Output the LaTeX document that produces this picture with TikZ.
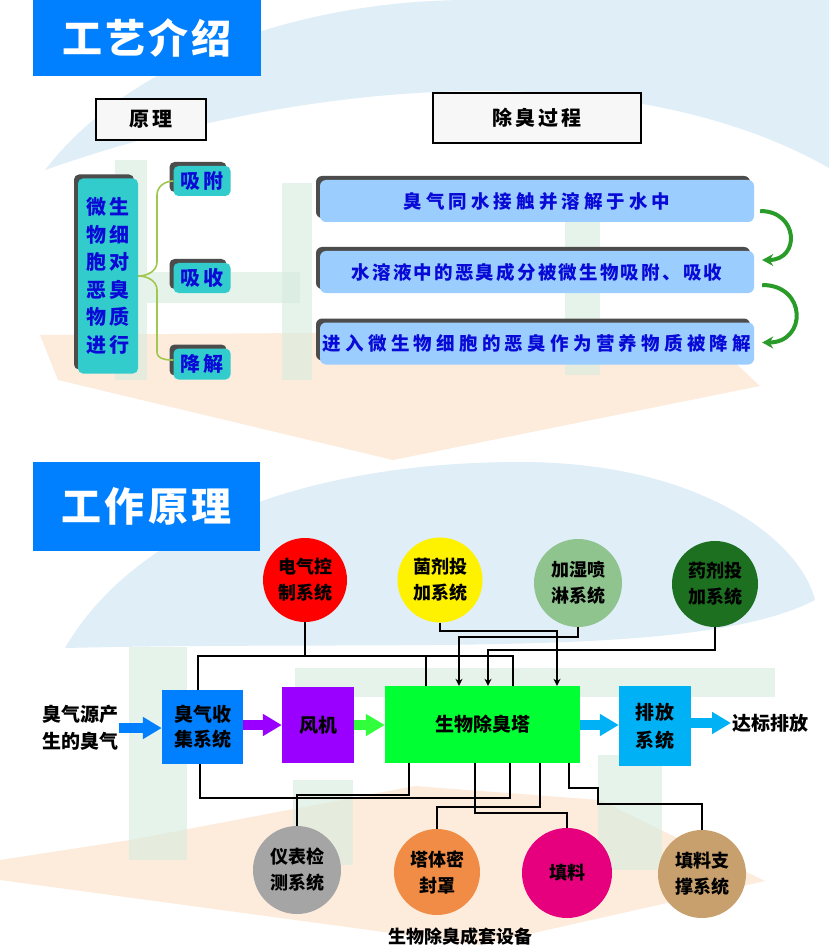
\documentclass[tikz,border=0pt]{standalone}
\usepackage{fontspec}
\setmainfont{Noto Sans CJK SC}
\usetikzlibrary{arrows.meta,shadows,positioning}

\definecolor{titleblue}{RGB}{0,128,255}
\definecolor{inkblue}{RGB}{10,10,215}
\definecolor{tealfill}{RGB}{51,204,204}
\definecolor{procblue}{RGB}{155,205,255}
\definecolor{bracegreen}{RGB}{160,200,80}
\definecolor{cyclegreen}{RGB}{40,155,40}
\definecolor{swooshblue}{RGB}{224,238,248}
\definecolor{wedgeorange}{RGB}{253,236,220}
\definecolor{wmgreen}{RGB}{214,236,222}
\definecolor{purplebox}{RGB}{153,0,255}
\definecolor{greenbox}{RGB}{0,255,51}
\definecolor{exitblue}{RGB}{0,178,245}
\definecolor{arrgreen}{RGB}{50,255,60}
\definecolor{lightgreenc}{RGB}{143,196,143}
\definecolor{darkgreenc}{RGB}{28,112,32}
\definecolor{grayc}{RGB}{165,165,165}
\definecolor{orangec}{RGB}{240,140,70}
\definecolor{magentac}{RGB}{230,0,125}
\definecolor{tanc}{RGB}{200,160,110}

\newcommand{\wide}[1]{\addfontfeature{LetterSpace=#1}}

\begin{document}
\begin{tikzpicture}[x=1pt, y=-1pt,
  titlebar/.style={fill=titleblue, text=white, inner sep=0pt,
                   font=\fontsize{40}{40}\selectfont\bfseries},
  header/.style={draw=black, line width=2.5pt, fill=gray!6, inner sep=0pt,
                 font=\fontsize{20}{20}\selectfont\bfseries},
  tealbox/.style={fill=tealfill, rounded corners=5pt, inner sep=0pt, text=inkblue,
                  align=center, font=\fontsize{20}{27.5}\selectfont\bfseries,
                  general shadow={fill=black!70, shadow xshift=-4pt, shadow yshift=4pt}},
  proc/.style={fill=procblue, rounded corners=6pt, inner sep=0pt, text=inkblue,
               minimum width=434pt, minimum height=42pt,
               font=\fontsize{18.5}{20}\selectfont\bfseries,
               general shadow={fill=black!70, shadow xshift=-4pt, shadow yshift=4pt}},
  cyclearr/.style={cyclegreen, line width=4pt, -{Stealth[length=11pt,width=12pt]}},
  bracket/.style={bracegreen, line width=1.6pt},
  circ/.style={circle, inner sep=0pt, align=center,
               font=\fontsize{18}{26}\selectfont\bfseries},
  unit/.style={inner sep=0pt, align=center,
               font=\fontsize{19}{25}\selectfont\bfseries},
  txt/.style={inner sep=1pt, align=center,
              font=\fontsize{19}{27}\selectfont\bfseries},
  flow/.style={line width=10pt, -{Triangle[length=19pt,width=21pt]}},
  link/.style={line width=1.6pt},
  feed/.style={link, -{Stealth[length=7pt,width=7pt]}}
]
  \fill[white] (0,0) rectangle (829,949);
  \useasboundingbox (0,0) rectangle (829,949);

  % Background
  \fill[swooshblue] (45,170) .. controls (130,60) and (300,0) .. (470,0) -- (829,0)
    -- (829,168) .. controls (640,60) and (330,70) .. (45,170) -- cycle;
  \fill[wedgeorange] (40,335) -- (58,380) -- (393,460) -- (760,386) -- (700,330) -- cycle;
  \fill[swooshblue] (65,648) .. controls (140,520) and (320,462) .. (520,462)
    .. controls (700,462) and (800,540) .. (815,600)
    .. controls (700,660) and (400,640) .. (65,648) -- cycle;
  \fill[wedgeorange] (130,840) -- (415,786) -- (600,800) -- (765,881) -- (480,945)
    -- (0,880) -- (0,860) -- cycle;
  \begin{scope}[fill=wmgreen, opacity=0.6]
    \fill (115,160) rectangle (147,380);
    \fill (147,272) rectangle (300,303);
    \fill (282,183) rectangle (312,380);
    \fill (565,200) rectangle (600,375);
    \fill (129,647) rectangle (187,860);
    \fill (295,668) rectangle (775,697);
    \fill (293,780) rectangle (353,865);
    \fill (598,755) rectangle (662,870);
  \end{scope}

  % Section 1
  \node[titlebar, minimum width=228pt, minimum height=76pt] (gyjs) at (147,38) {\wide{8}工艺介绍};
  \node[header, minimum width=110pt, minimum height=41pt] (yl) at (151,119.5) {\wide{15}原理};
  \node[header, minimum width=208pt, minimum height=50pt] (ccgc) at (537,118) {\wide{15}除臭过程};

  \node[tealbox, minimum width=60pt, minimum height=195pt] (wsw) at (108,276)
    {\wide{15}微生\\\wide{15}物细\\\wide{15}胞对\\\wide{15}恶臭\\\wide{15}物质\\\wide{15}进行};
  \node[tealbox, minimum width=57pt, minimum height=30pt] (xf) at (202,181) {\wide{15}吸附};
  \node[tealbox, minimum width=57pt, minimum height=30pt] (xs) at (202,278) {\wide{15}吸收};
  \node[tealbox, minimum width=57pt, minimum height=31pt] (jj) at (202,364) {\wide{15}降解};

  \draw[bracket] (xf.west) to[out=180,in=90] (157,195) -- (157,262)
    to[out=-90,in=0] (wsw.east |- 0,276) to[out=0,in=90] (157,290) -- (157,352)
    to[out=-90,in=180] ([yshift=4pt]jj.west);

  \node[proc] (p1) at (537,201) {\wide{22}臭气同水接触并溶解于水中};
  \node[proc] (p2) at (537,272) {\wide{12}水溶液中的恶臭成分被微生物吸附、吸收};
  \node[proc] (p3) at (537,343.5) {\wide{23}进入微生物细胞的恶臭作为营养物质被降解};

  \draw[cyclearr] ([shift={(6pt,-10pt)}]p1.east) to[out=0,in=0,looseness=2] ([shift={(8pt,12pt)}]p2.east);
  \draw[cyclearr] ([shift={(8pt,-13pt)}]p2.east) to[out=0,in=0,looseness=2] ([shift={(8pt,1pt)}]p3.east);

  % Section 2
  \node[titlebar, minimum width=227pt, minimum height=89pt] (gzyl) at (146.5,506.5) {\wide{8}工作原理};

  \node[circ, fill=red, minimum size=84pt] (dqkz) at (305,580) {电气控\\制系统};
  \node[circ, fill=yellow, minimum size=85pt] (jjtj) at (440,580) {菌剂投\\加系统};
  \node[circ, fill=lightgreenc, minimum size=88pt] (jspl) at (578,583) {加湿喷\\淋系统};
  \node[circ, fill=darkgreenc, minimum size=86pt] (yjtj) at (715,584) {药剂投\\加系统};

  \node[txt] (src) at (80,728) {臭气源产\\生的臭气};
  \node[unit, fill=titleblue, minimum width=81pt, minimum height=74pt] (sjxt) at (202.5,727) {臭气收\\集系统};
  \node[unit, fill=purplebox, minimum width=72pt, minimum height=76pt] (fj) at (318,725) {风机};
  \node[unit, fill=greenbox, minimum width=195pt, minimum height=77pt] (swcct) at (482.5,724.5) {生物除臭塔};
  \node[unit, fill=exitblue, minimum width=72pt, minimum height=80pt, font=\fontsize{19}{28}\selectfont\bfseries] (pfxt) at (655,726) {\wide{10}排放\\\wide{10}系统};
  \node[txt, anchor=west] (dbpf) at (731,723) {达标排放};

  \node[circ, fill=grayc, minimum size=88pt] (ybjc) at (297,870) {仪表检\\测系统};
  \node[circ, fill=orangec, minimum size=86pt] (ttmf) at (437,872) {塔体密\\封罩};
  \node[circ, fill=magentac, minimum size=90pt] (tl) at (567,873) {填料};
  \node[circ, fill=tanc, minimum size=88pt] (tlzc) at (702,874) {填料支\\撑系统};
  \node[txt, font=\fontsize{18}{18}\selectfont\bfseries] (cttb) at (460,937) {生物除臭成套设备};

  % Main flow
  \draw[flow, titleblue] (src.east |- 0,728) -- (sjxt.west |- 0,728);
  \draw[flow, purplebox] (sjxt.east |- 0,725) -- (fj.west |- 0,725);
  \draw[flow, arrgreen] (fj.east |- 0,725) -- (swcct.west |- 0,725);
  \draw[flow, exitblue] (swcct.east |- 0,725) -- (pfxt.west |- 0,725);
  \draw[flow, exitblue] (pfxt.east |- 0,723) -- (dbpf.west);

  % Upper links
  \coordinate (busT) at (0,656);
  \draw[link] (198,0 |- sjxt.north) -- (198,0 |- busT) -- (513,0 |- busT) -- (513,0 |- swcct.north);
  \draw[link] (dqkz.south) -- (dqkz.south |- busT);
  \draw[link] (426,0 |- busT) -- (426,0 |- swcct.north);
  \draw[feed] (jjtj.south) |- (557,631) -- (557,0 |- swcct.north);
  \draw[feed] (jspl.south) |- (459,637) -- (459,0 |- swcct.north);
  \draw[feed] (yjtj.south) |- (488,650) -- (488,0 |- swcct.north);

  % Lower links
  \draw[link] (200,0 |- sjxt.south) |- (510,798) -- (510,0 |- swcct.south);
  \draw[link] (409,0 |- swcct.south) |- (ybjc.north |- 0,795) -- (ybjc.north);
  \draw[link] (540,0 |- swcct.south) |- (ttmf.north |- 0,807) -- (ttmf.north);
  \draw[link] (475,0 |- swcct.south) |- (tl.north |- 0,813) -- (tl.north);
  \draw[link] (569,0 |- swcct.south) |- (598,788) |- (tlzc.north |- 0,804) -- (tlzc.north);
\end{tikzpicture}
\end{document}
